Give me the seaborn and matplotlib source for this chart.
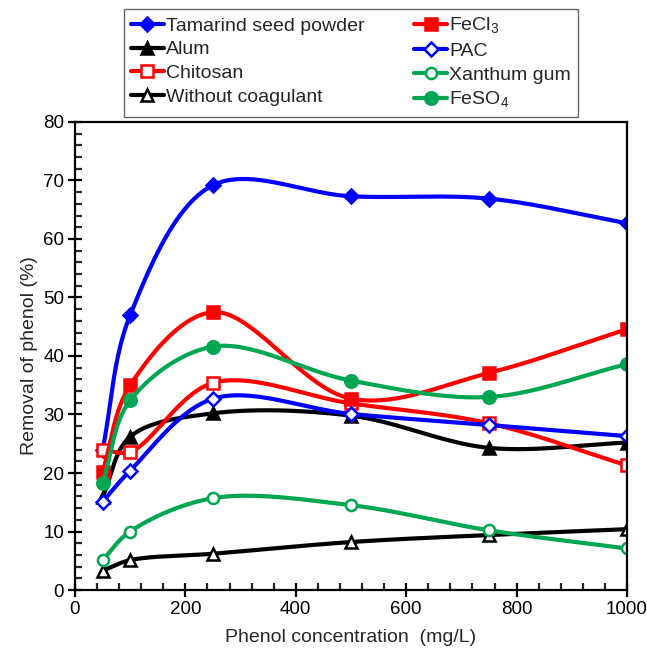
import numpy as np
import pandas as pd
import matplotlib
matplotlib.use("Agg")
import matplotlib.pyplot as plt
import seaborn as sns
from matplotlib.ticker import MultipleLocator

# phenol concentration (mg/L)
conc = [50, 100, 250, 500, 750, 1000]

# removal of phenol (%)
tamarind = [24.0, 47.0, 69.2, 67.3, 66.9, 62.7]
alum = [15.9, 26.2, 30.2, 29.8, 24.3, 25.2]
chitosan = [24.0, 23.6, 35.4, 31.9, 28.5, 21.3]
without = [3.3, 5.1, 6.2, 8.2, 9.4, 10.4]
fecl3 = [20.2, 35.0, 47.5, 32.7, 37.1, 44.6]
pac = [15.1, 20.4, 32.7, 30.1, 28.2, 26.3]
xanthum = [5.1, 10.0, 15.7, 14.5, 10.2, 7.1]
feso4 = [18.3, 32.4, 41.6, 35.8, 33.0, 38.6]

labels = ["Tamarind seed powder", "Alum", "Chitosan", "Without coagulant",
          "FeCl$_\\mathregular{3}$", "PAC", "Xanthum gum", "FeSO$_\\mathregular{4}$"]
series = [tamarind, alum, chitosan, without, fecl3, pac, xanthum, feso4]
colors = ["#0000ff", "#000000", "#ff0000", "#000000",
          "#ff0000", "#0000ff", "#00a651", "#00a651"]
markers = ["D", "^", "s", "^", "s", "D", "o", "o"]
filled = [True, True, False, False, True, False, False, True]
msizes = [7, 9, 9, 9, 9, 7, 8, 9]

XSPAN, YSPAN = 552.0, 468.0  # axes size in pixels, for an even-looking curve


def smooth_line(x, y, n_seg=40, alpha=0.5):
    # centripetal Catmull-Rom curve through the points, built in screen space
    P = np.column_stack([np.asarray(x, float) / 1000 * XSPAN,
                         np.asarray(y, float) / 80 * YSPAN])
    P = np.vstack([2 * P[0] - P[1], P, 2 * P[-1] - P[-2]])
    pts, knots = [], []
    for i in range(1, len(P) - 2):
        p0, p1, p2, p3 = P[i - 1], P[i], P[i + 1], P[i + 2]
        t0 = 0.0
        t1 = t0 + np.linalg.norm(p1 - p0) ** alpha
        t2 = t1 + np.linalg.norm(p2 - p1) ** alpha
        t3 = t2 + np.linalg.norm(p3 - p2) ** alpha
        last = i == len(P) - 3
        t = np.linspace(t1, t2, n_seg, endpoint=last)[:, None]
        a1 = (t1 - t) / (t1 - t0) * p0 + (t - t0) / (t1 - t0) * p1
        a2 = (t2 - t) / (t2 - t1) * p1 + (t - t1) / (t2 - t1) * p2
        a3 = (t3 - t) / (t3 - t2) * p2 + (t - t2) / (t3 - t2) * p3
        b1 = (t2 - t) / (t2 - t0) * a1 + (t - t0) / (t2 - t0) * a2
        b2 = (t3 - t) / (t3 - t1) * a2 + (t - t1) / (t3 - t1) * a3
        c = (t2 - t) / (t2 - t1) * b1 + (t - t1) / (t2 - t1) * b2
        knots.append(len(pts))
        pts.extend(c)
    knots.append(len(pts) - 1)
    pts = np.array(pts)
    return pts[:, 0] / XSPAN * 1000, pts[:, 1] / YSPAN * 80, knots


sns.set_style("ticks")
plt.rcParams["font.family"] = ["Liberation Sans", "DejaVu Sans"]
plt.rcParams["mathtext.fontset"] = "custom"
plt.rcParams["mathtext.rm"] = "Liberation Sans"

fig = plt.figure(figsize=(6.47, 6.51), dpi=100)
ax = fig.add_axes([0.1159, 0.0937, 0.8532, 0.7189])

for lab, ys, col, mk, fl, ms in zip(labels, series, colors, markers, filled, msizes):
    xs_d, ys_d, knots = smooth_line(conc, ys)
    df = pd.DataFrame({"x": xs_d, "y": ys_d})
    sns.lineplot(data=df, x="x", y="y", ax=ax, color=col, lw=3.0,
                 marker=mk, markevery=knots, markersize=ms,
                 markerfacecolor=col if fl else "white",
                 markeredgecolor=col, markeredgewidth=1.8,
                 label=lab, sort=False, estimator=None)

ax.set_xlim(0, 1000)
ax.set_ylim(0, 80)
ax.xaxis.set_major_locator(MultipleLocator(200))
ax.xaxis.set_minor_locator(MultipleLocator(40))
ax.yaxis.set_major_locator(MultipleLocator(10))
ax.yaxis.set_minor_locator(MultipleLocator(2))
ax.tick_params(which="major", direction="inout", length=9.5, width=1.6,
               labelsize=13.5, colors="black", pad=3)
ax.tick_params(which="minor", direction="in", length=5, width=1.6)
for sp in ax.spines.values():
    sp.set_linewidth(1.6)
    sp.set_color("black")
    sp.set_visible(True)

ax.set_xlabel("Phenol concentration  (mg/L)", fontsize=14, labelpad=8)
ax.set_ylabel("Removal of phenol (%)", fontsize=14, labelpad=4)

leg = ax.legend(loc="lower left", bbox_to_anchor=(0.089, 1.011, 0.822, 0.224),
                mode="expand", ncol=2, fontsize=14, frameon=True,
                fancybox=False, edgecolor="#404040", handlelength=1.7,
                handletextpad=0.1, borderpad=0.35, labelspacing=0.32,
                borderaxespad=0)
leg.get_frame().set_linewidth(1.0)

fig.savefig("out.png", dpi=100)
